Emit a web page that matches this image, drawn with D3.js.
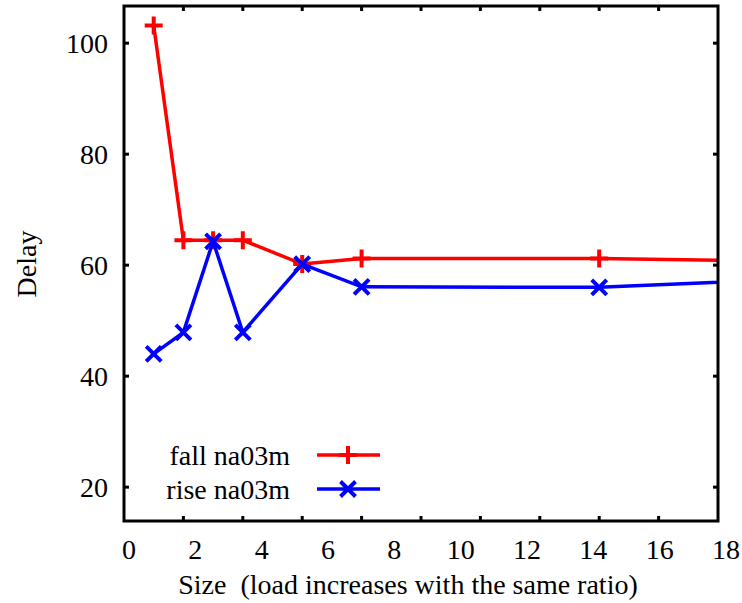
<!DOCTYPE html>
<meta charset="utf-8">
<script src="https://cdnjs.cloudflare.com/ajax/libs/d3/7.8.5/d3.min.js"></script>
<style>
 body { margin: 0; background: #fff; }
 text { font-family: "Liberation Serif", "Times New Roman", serif; fill: #000; }
</style>
<div id="container"></div>
<script>
 // data (x in frame tick units, the frame spans 0..10)
 var sizes = [0.5, 1, 1.5, 2, 3, 4, 8, 16];
 var fall = [103.2, 64.5, 64.5, 64.5, 60.2, 61.2, 61.2, 60.0];
 var rise = [44.0, 47.9, 64.3, 47.9, 60.2, 56.1, 56.0, 59.6];
 var xTickLabels = [0, 2, 4, 6, 8, 10, 12, 14, 16, 18];
 var yTickLabels = [20, 40, 60, 80, 100];
 var seriesNames = ["fall na03m", "rise na03m"];

 var width = 742, height = 603;
 var margin = {top: 6, right: 24, bottom: 82, left: 124};
 var fontSize = 28;

 var svg = d3.select("#container").append("svg")
     .attr("width", width)
     .attr("height", height);

 var x = d3.scaleLinear().domain([0, 10]).range([margin.left, width - margin.right]);
 // the tick labels of the original run on their own scale
 var xLab = d3.scaleLinear().domain([0, 18]).range([129, 726]);
 var y = d3.scaleLinear().domain([13.9, 106.7]).range([height - margin.bottom, margin.top]);

 svg.append("clipPath").attr("id", "plot-clip")
    .append("rect")
    .attr("x", x(0)).attr("y", y.range()[1])
    .attr("width", x(10) - x(0)).attr("height", y.range()[0] - y.range()[1]);

 // tick marks (inside, top and bottom / left and right)
 var tk = 5;
 var xt = d3.range(1, 10);
 svg.selectAll("line.xtb").data(xt).enter().append("line")
    .attr("x1", d => x(d)).attr("x2", d => x(d))
    .attr("y1", y.range()[0]).attr("y2", y.range()[0] - tk)
    .attr("stroke", "#000").attr("stroke-width", 3);
 svg.selectAll("line.xtt").data(xt).enter().append("line")
    .attr("x1", d => x(d)).attr("x2", d => x(d))
    .attr("y1", y.range()[1]).attr("y2", y.range()[1] + tk)
    .attr("stroke", "#000").attr("stroke-width", 3);
 svg.selectAll("line.ytl").data(yTickLabels).enter().append("line")
    .attr("x1", x(0)).attr("x2", x(0) + tk)
    .attr("y1", d => y(d)).attr("y2", d => y(d))
    .attr("stroke", "#000").attr("stroke-width", 3);
 svg.selectAll("line.ytr").data(yTickLabels).enter().append("line")
    .attr("x1", x(10)).attr("x2", x(10) - tk)
    .attr("y1", d => y(d)).attr("y2", d => y(d))
    .attr("stroke", "#000").attr("stroke-width", 3);

 // tick labels
 svg.selectAll("text.xl").data(xTickLabels).enter().append("text")
    .attr("x", d => xLab(d))
    .attr("y", 559)
    .attr("text-anchor", "middle")
    .attr("font-size", fontSize)
    .text(d => d);
 svg.selectAll("text.yl").data(yTickLabels).enter().append("text")
    .attr("x", 108)
    .attr("y", d => y(d))
    .attr("dy", "0.35em")
    .attr("text-anchor", "end")
    .attr("font-size", fontSize)
    .text(d => d);

 // axis titles
 svg.append("text")
    .attr("x", 408).attr("y", 594)
    .attr("text-anchor", "middle")
    .attr("font-size", fontSize)
    .attr("xml:space", "preserve")
    .text("Size  (load increases with the same ratio)");
 svg.append("text")
    .attr("transform", "translate(36,264) rotate(-90)")
    .attr("text-anchor", "middle")
    .attr("font-size", fontSize)
    .text("Delay");

 // series
 var series = [
     {name: seriesNames[0], values: fall, color: "#ff0000", marker: "plus"},
     {name: seriesNames[1], values: rise, color: "#0000ff", marker: "cross"}
 ];

 function markerPath(type, r) {
     if (type === "plus") return `M${-r},0H${r}M0,${-r}V${r}`;
     return `M${-r},${-r}L${r},${r}M${-r},${r}L${r},${-r}`;
 }

 var line = d3.line().x(d => x(d[0])).y(d => y(d[1]));
 var plot = svg.append("g").attr("clip-path", "url(#plot-clip)");

 series.forEach(function (s) {
     var pts = sizes.map((v, i) => [v, s.values[i]]);
     plot.append("path")
         .attr("d", line(pts))
         .attr("fill", "none")
         .attr("stroke", s.color)
         .attr("stroke-width", 3.5);
     plot.selectAll(null).data(pts).enter().append("path")
         .attr("transform", d => `translate(${x(d[0])},${y(d[1])})`)
         .attr("d", markerPath(s.marker, s.marker === "plus" ? 9 : 7.5))
         .attr("stroke", s.color)
         .attr("stroke-width", 4)
         .attr("fill", "none");
 });

 // legend
 var legend = svg.append("g");
 series.forEach(function (s, i) {
     var ly = 455 + i * 34;
     legend.append("text")
         .attr("x", 290).attr("y", ly)
         .attr("dy", "0.35em")
         .attr("text-anchor", "end")
         .attr("font-size", fontSize)
         .text(s.name);
     legend.append("line")
         .attr("x1", 317).attr("x2", 380)
         .attr("y1", ly).attr("y2", ly)
         .attr("stroke", s.color).attr("stroke-width", 3.5);
     legend.append("path")
         .attr("transform", `translate(348,${ly})`)
         .attr("d", markerPath(s.marker, s.marker === "plus" ? 9 : 7.5))
         .attr("stroke", s.color).attr("stroke-width", 4)
         .attr("fill", "none");
 });

 // frame
 svg.append("rect")
    .attr("x", x(0)).attr("y", y.range()[1])
    .attr("width", x(10) - x(0)).attr("height", y.range()[0] - y.range()[1])
    .attr("fill", "none")
    .attr("stroke", "#000")
    .attr("stroke-width", 3);
</script>
